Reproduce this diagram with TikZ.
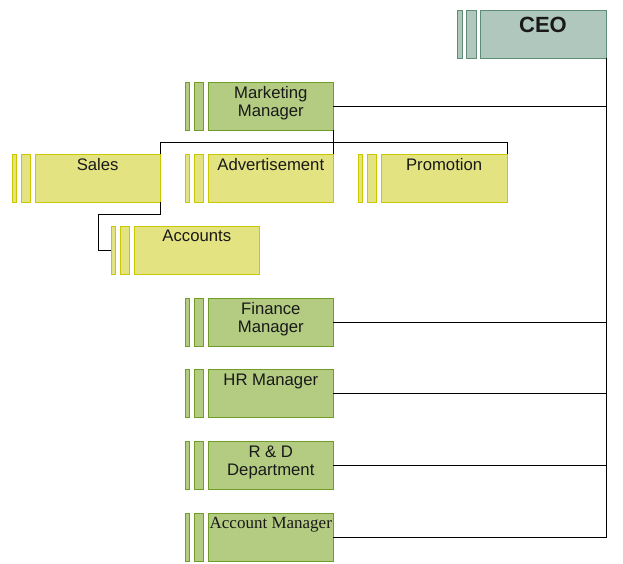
\documentclass[tikz,border=0pt]{standalone}
\usepackage{fontspec}
\setmainfont{Liberation Sans}
\newfontfamily\seriffont{Liberation Serif}
\definecolor{ceofill}{RGB}{176,199,190}
\definecolor{ceodraw}{RGB}{95,140,118}
\definecolor{mgrfill}{RGB}{179,204,130}
\definecolor{mgrdraw}{RGB}{112,156,40}
\definecolor{subfill}{RGB}{227,227,130}
\definecolor{subdraw}{RGB}{204,200,0}
\tikzset{
  boxbase/.style={rectangle, inner sep=0pt, outer sep=0pt, anchor=north west, line width=0.9pt},
  ceobox/.style={boxbase, fill=ceofill, draw=ceodraw},
  mgrbox/.style={boxbase, fill=mgrfill, draw=mgrdraw},
  subbox/.style={boxbase, fill=subfill, draw=subdraw},
  boxtext/.style={anchor=north, inner sep=0pt, align=center, text=black!90,
    font=\fontsize{16.7}{18.4}\selectfont},
  conn/.style={draw=black, line width=0.9pt}
}
% \orgunit{name}{left x of main}{top y}{style}{text}{width}
\newcommand{\orgunit}[6]{%
  \node[#4, minimum width=4.6pt, minimum height=48pt] (#1b1) at (#2-23,#3) {};
  \node[#4, minimum width=9.2pt, minimum height=48pt] (#1b2) at (#2-14,#3) {};
  \node[#4, minimum width=#6pt, minimum height=48pt] (#1) at (#2,#3) {};
  \node[boxtext] (#1t) at ($(#1.north)+(0,4)$) {#5};
}
\usetikzlibrary{calc}
\begin{document}
\begin{tikzpicture}[x=1pt,y=-1pt]
\useasboundingbox (0,0) rectangle (623,564);
% CEO
\node[ceobox, minimum width=4.8pt, minimum height=48pt] (ceob1) at (457.5,10) {};
\node[ceobox, minimum width=10pt, minimum height=48pt] (ceob2) at (466.2,10) {};
\node[ceobox, minimum width=126pt, minimum height=48pt] (ceo) at (480,10) {};
\node[anchor=north, inner sep=0pt, font=\bfseries\fontsize{22}{24}\selectfont, text=black!90] (ceot) at ($(ceo.north)+(0,6.5)$) {CEO};
% managers
\orgunit{mm}{208.3}{82.3}{mgrbox}{Marketing\\Manager}{125}
\orgunit{fm}{208.3}{298}{mgrbox}{Finance\\Manager}{125}
\orgunit{hr}{208.3}{369.5}{mgrbox}{HR Manager}{125}
\orgunit{rd}{208.3}{441.5}{mgrbox}{R \& D\\Department}{125}
\orgunit{am}{208.3}{513.3}{mgrbox}{}{125}
\node[anchor=north, inner sep=0pt, font=\seriffont\fontsize{17}{19}\selectfont, text=black!90] (amt) at ($(am.north)+(0,4)$) {Account Manager};
% marketing sub-units
\orgunit{sales}{35}{154.3}{subbox}{Sales}{125.3}
\orgunit{adv}{208.3}{154.3}{subbox}{Advertisement}{125}
\orgunit{promo}{381}{154.3}{subbox}{Promotion}{126.3}
\orgunit{acc}{134.3}{226.3}{subbox}{Accounts}{125}
% connectors
\coordinate (mj) at (333.3,142.3);
\coordinate (sj) at (98.7,214.3);
\draw[conn] (ceo.south east) |- (am.east);
\draw[conn] (mm.east) -- (mm.east -| ceo.east);
\draw[conn] (fm.east) -- (fm.east -| ceo.east);
\draw[conn] (hr.east) -- (hr.east -| ceo.east);
\draw[conn] (rd.east) -- (rd.east -| ceo.east);
\draw[conn] (mm.south east) -- (adv.north east);
\draw[conn] (sales.north east) |- (mj) -| (promo.north east);
\draw[conn] (sales.south east) |- (sj) |- (accb1.west);
\end{tikzpicture}
\end{document}
